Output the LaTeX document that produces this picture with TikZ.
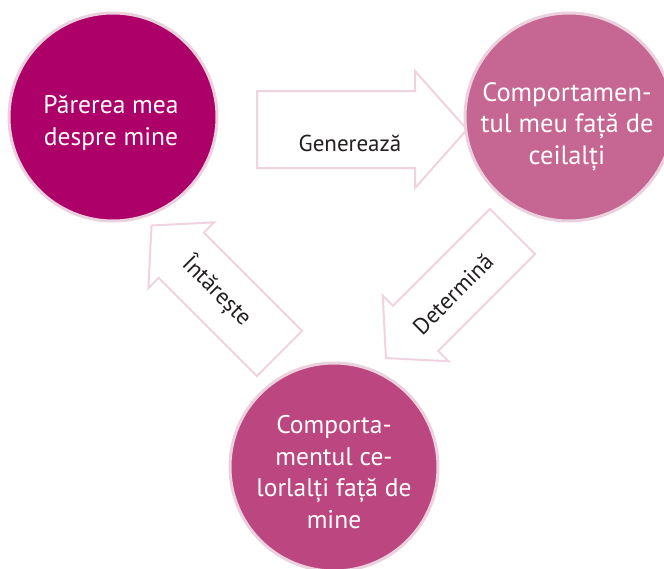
\documentclass[tikz,border=0pt]{standalone}
\usepackage{fontspec}
\setmainfont{PT Sans}
\definecolor{cone}{HTML}{AD0068}
\definecolor{ctwo}{HTML}{C66693}
\definecolor{cthree}{HTML}{BC4780}
\definecolor{circborder}{HTML}{EBD0DD}
\definecolor{arrowborder}{HTML}{EFD3E1}
\definecolor{labeltext}{HTML}{231F20}
\newcommand{\blockarrowpath}[4]{(0,-#3) -- ({#1-#2},-#3) -- ({#1-#2},-#4) -- (#1,0) -- ({#1-#2},#4) -- ({#1-#2},#3) -- (0,#3) -- cycle}
\begin{document}
\begin{tikzpicture}[x=1pt,y=1pt,
  bubble/.style={circle, draw=circborder, line width=3pt, minimum size=208pt, inner sep=0pt},
  bubbletext/.style={text=white, font=\fontsize{25.5}{31.5}\selectfont, align=center, inner sep=0pt},
  arrowshape/.style={draw=arrowborder, line width=2pt, fill=white, line join=miter},
  arrowlabel/.style={text=labeltext, font=\fontsize{23}{27}\selectfont, inner sep=0pt}]
\useasboundingbox (0,0) rectangle (664,-568);
% block arrows
\draw[arrowshape, shift={(257,-129.5)}] \blockarrowpath{210}{52}{38.5}{58.5};
\draw[arrowshape, shift={(512.5,-231.5)}, rotate=-135] \blockarrowpath{179}{42}{32}{46.5};
\draw[arrowshape, shift={(279.5,-353.5)}, rotate=135] \blockarrowpath{181}{42}{32}{46.5};
% labels
\node[arrowlabel] (gen) at (350,-143) {Generează};
\node[arrowlabel, rotate=45] (det) at (453,-294) {Determină};
\node[arrowlabel, rotate=-45] (int) at (217,-291) {Întărește};
% circles
\node[bubble, fill=cone] (self) at (113,-117) {};
\node[bubble, fill=ctwo] (behav) at (569,-117) {};
\node[bubble, fill=cthree] (others) at (334,-467) {};
\node[bubbletext] (selftext) at (111,-123) {Părerea mea\\despre mine};
\node[bubbletext, font=\fontsize{26.5}{31.5}\selectfont] (behavtext) at (567,-126.5) {Comportamen-\\tul meu față de\\ceilalți};
\node[bubbletext] (otherstext) at (334,-472) {Comporta-\\mentul ce-\\lorlalți față de\\mine};
\end{tikzpicture}
\end{document}
